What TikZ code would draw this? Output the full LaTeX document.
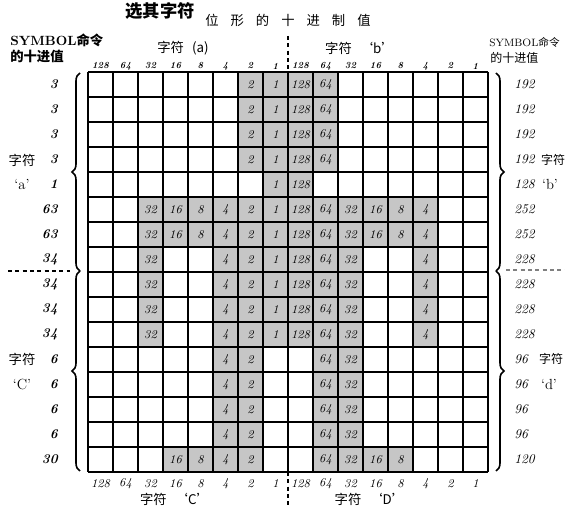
\documentclass[tikz,border=0pt]{standalone}
\usepackage{fontspec}
\newfontfamily\cjk{Noto Sans CJK SC}
\usetikzlibrary{decorations.pathreplacing}
\begin{document}
\begin{tikzpicture}[x=0.75pt,y=-0.75pt,
  gridline/.style={line width=1.5pt},
  shade/.style={fill=gray!45,draw=none},
  cellnum/.style={font=\fontsize{9}{9}\selectfont\itshape,inner sep=0pt},
  headnum/.style={font=\fontsize{7}{7}\selectfont\bfseries\itshape,inner sep=0pt},
  footnum/.style={font=\fontsize{9}{9}\selectfont\itshape,inner sep=0pt},
  sidel/.style={font=\fontsize{10}{10}\selectfont\bfseries\itshape,inner sep=0pt,anchor=east},
  sider/.style={font=\fontsize{10}{10}\selectfont\itshape,inner sep=0pt,anchor=west},
  cjklab/.style={font=\cjk\fontsize{10}{10}\selectfont,inner sep=0pt},
  cjksmall/.style={font=\cjk\fontsize{9}{9}\selectfont,inner sep=0pt},
  quotelab/.style={font=\fontsize{11}{11}\selectfont,inner sep=0pt},
  bracestyle/.style={decorate,decoration={brace,amplitude=6pt},line width=1.2pt},
  dashline/.style={line width=1.3pt,dash pattern=on 3pt off 2.5pt}]
\useasboundingbox (0,0) rectangle (565,509);
% shaded cells with their values
\foreach \r/\cols in {0/{6,7,8,9},1/{6,7,8,9},2/{6,7,8,9},3/{6,7,8,9},4/{7,8},
  5/{2,3,4,5,6,7,8,9,10,11,12,13},6/{2,3,4,5,6,7,8,9,10,11,12,13},
  7/{2,5,6,7,8,9,10,13},8/{2,5,6,7,8,9,10,13},9/{2,5,6,7,8,9,10,13},10/{2,5,6,7,8,9,10,13},
  11/{5,6,9,10},12/{5,6,9,10},13/{5,6,9,10},14/{5,6,9,10},15/{3,4,5,6,9,10,11,12}}{
  \foreach \c in \cols {
    \pgfmathtruncatemacro\v{2^(7-mod(\c,8))}
    \fill[shade] ({88+25*\c},{72+25*\r}) rectangle ({113+25*\c},{97+25*\r});
    \node[cellnum] (n-\r-\c) at ({100.5+25*\c},{84.5+25*\r}) {\v};
  }
}
% grid
\foreach \i in {0,...,16}{
  \draw[gridline] ({88+25*\i},72) -- ({88+25*\i},472);
  \draw[gridline] (88,{72+25*\i}) -- (488,{72+25*\i});
}
% column headers
\foreach \v [count=\k from 0] in {128,64,32,16,8,4,2,1,128,64,32,16,8,4,2,1}{
  \node[headnum] (h-\k) at ({100.5+25*\k},66) {\v};
  \node[footnum] (f-\k) at ({100.5+25*\k},484) {\v};
}
% side values
\foreach \a/\b [count=\k from 0] in {3/192,3/192,3/192,3/192,1/128,63/252,63/252,34/228,
  34/228,34/228,34/228,6/96,6/96,6/96,6/96,30/120}{
  \node[sidel] (l-\k) at (58,{84.5+25*\k}) {\a};
  \node[sider] (r-\k) at (514,{84.5+25*\k}) {\b};
}
% braces
\coordinate (bl1) at (80,73); \coordinate (bl2) at (80,271); \coordinate (bl3) at (80,471);
\coordinate (br1) at (496,73); \coordinate (br2) at (496,271); \coordinate (br3) at (496,471);
\draw[bracestyle,decoration={mirror}] (bl1) -- (bl2);
\draw[bracestyle,decoration={mirror}] (bl2) -- (bl3);
\draw[bracestyle] (br1) -- (br2);
\draw[bracestyle] (br2) -- (br3);
% dashed separators
\coordinate (dl1) at (8,271); \coordinate (dl2) at (70,271);
\coordinate (dr1) at (506,270); \coordinate (dr2) at (565,270);
\coordinate (dv1) at (288,36); \coordinate (dv2) at (288,72);
\coordinate (dv3) at (288,472); \coordinate (dv4) at (288,506);
\draw[dashline] (dl1) -- (dl2);
\draw[dashline,line width=0.8pt,gray] (dr1) -- (dr2);
\draw[dashline] (dv1) -- (dv2);
\draw[dashline] (dv3) -- (dv4);
% titles
\node[font=\cjk\bfseries\fontsize{13}{13}\selectfont,anchor=north,inner sep=0pt] (t1) at (160,2) {选其字符};
\node[cjklab] (t2) at (288,20) {位\hspace{0.9em}形\hspace{0.9em}的\hspace{0.9em}十\hspace{0.9em}进\hspace{0.9em}制\hspace{0.9em}值};
% corner labels
\node[font=\fontsize{10}{10}\selectfont\bfseries,inner sep=0pt,anchor=west] (sl1) at (10,40) {SYMBOL{\cjk 命令}};
\node[font=\cjk\bfseries\fontsize{10}{10}\selectfont,inner sep=0pt,anchor=west] (sl2) at (10,56) {的十进值};
\node[font=\fontsize{8}{8}\selectfont,inner sep=0pt,anchor=west] (sr1) at (489,42) {SYMBOL{\cjk 命令}};
\node[font=\cjk\fontsize{9}{9}\selectfont,inner sep=0pt,anchor=west] (sr2) at (490,58) {的十进值};
% character labels
\node[cjklab] (ca) at (183,48) {字符\hspace{0.6em}(a)};
\node[cjklab] (cb) at (360,48) {字符\hspace{0.6em}‘b’};
\node[cjklab] (cc) at (175,499) {字符\hspace{0.6em}‘C’};
\node[cjklab] (cd) at (370,499) {字符\hspace{0.6em}‘D’};
\node[cjklab] (la1) at (22,160) {字符};
\node[quotelab] (la2) at (22,184) {‘a’};
\node[cjklab] (lc1) at (22,359) {字符};
\node[quotelab] (lc2) at (22,384) {‘C’};
\node[cjksmall] (rb1) at (553,160) {字符};
\node[quotelab] (rb2) at (550,184) {‘b’};
\node[cjksmall] (rd1) at (551,359) {字符};
\node[quotelab] (rd2) at (549,384) {‘d’};
\end{tikzpicture}
\end{document}
